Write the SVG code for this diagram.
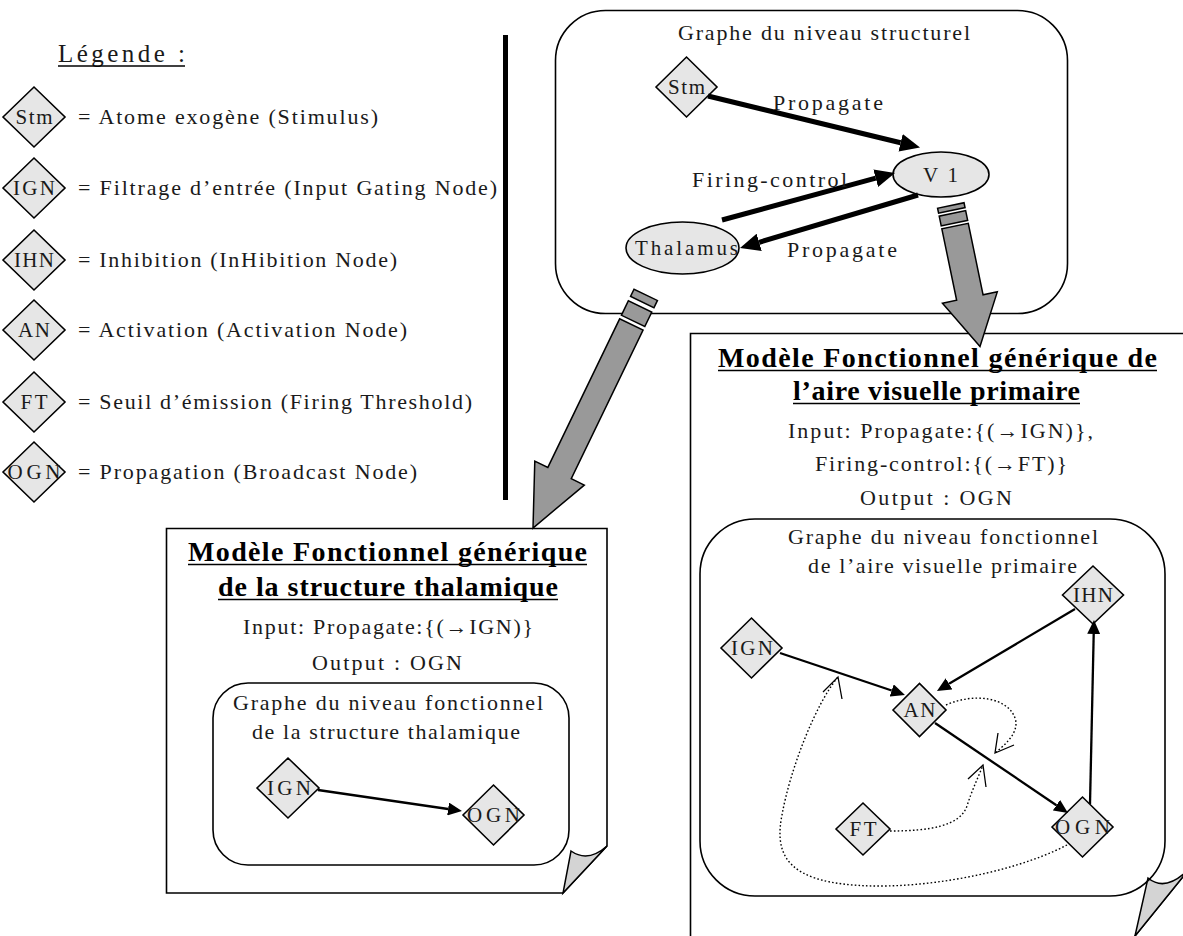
<svg xmlns="http://www.w3.org/2000/svg" width="1183" height="936" viewBox="0 0 1183 936">
<defs>
<style>
text{font-family:"Liberation Serif","Times New Roman",serif;fill:#1a1a1a}
.t{font-size:22px}
.lbl{font-size:21px;text-anchor:middle}
.ttl{font-size:28px;font-weight:bold;fill:#000}
.dia,.ell{fill:#e6e6e6;stroke:#000;stroke-width:1.6}
.frame{fill:#fff;stroke:#000;stroke-width:1.6}
.rr{fill:none;stroke:#000;stroke-width:1.6}
.thick{stroke:#000;stroke-width:5;fill:none}
.thin{stroke:#000;stroke-width:2.3;fill:none}
.dot{stroke:#000;stroke-width:1.4;fill:none;stroke-dasharray:1.6 2.2}
.vh{stroke:#000;stroke-width:1.3;fill:none}
.blk{fill:#999;stroke:#000;stroke-width:1.5}
.fold{fill:#d4d4d4;stroke:#000;stroke-width:1.5}
.ul{stroke:#000;stroke-width:1.5}
</style>
<marker id="hb" viewBox="0 -9 20 18" refX="0" refY="0" markerWidth="20" markerHeight="18" markerUnits="userSpaceOnUse" orient="auto"><path d="M0,-9 L20,0 L0,9 Z" fill="#000"/></marker>
<marker id="hs" viewBox="0 -6.5 14 13" refX="0" refY="0" markerWidth="14" markerHeight="13" markerUnits="userSpaceOnUse" orient="auto"><path d="M0,-6.5 L14,0 L0,6.5 Z" fill="#000"/></marker>
</defs>
<rect width="1183" height="936" fill="#fff"/>

<g id="legend">
<text class="t" x="58" y="62" style="font-size:25px" textLength="127" lengthAdjust="spacing">Légende :</text>
<line class="ul" x1="58" y1="66" x2="185" y2="66"/>
<g id="leg-stm"><polygon class="dia" points="3,117 34,87 65,117 34,147"/><text class="lbl" x="34" y="124" textLength="37" lengthAdjust="spacing">Stm</text><text class="t" x="78" y="124" textLength="300" lengthAdjust="spacing">= Atome exogène (Stimulus)</text></g>
<g id="leg-ign"><polygon class="dia" points="3,188 34,158 65,188 34,218"/><text class="lbl" x="34" y="195" textLength="42" lengthAdjust="spacing">IGN</text><text class="t" x="78" y="195" textLength="419" lengthAdjust="spacing">= Filtrage d’entrée (Input Gating Node)</text></g>
<g id="leg-ihn"><polygon class="dia" points="3,260 34,230 65,260 34,290"/><text class="lbl" x="34" y="267" textLength="40" lengthAdjust="spacing">IHN</text><text class="t" x="78" y="267" textLength="319" lengthAdjust="spacing">= Inhibition (InHibition Node)</text></g>
<g id="leg-an"><polygon class="dia" points="3,330 34,300 65,330 34,360"/><text class="lbl" x="34" y="337" textLength="32" lengthAdjust="spacing">AN</text><text class="t" x="78" y="337" textLength="329" lengthAdjust="spacing">= Activation (Activation Node)</text></g>
<g id="leg-ft"><polygon class="dia" points="3,402 34,372 65,402 34,432"/><text class="lbl" x="34" y="409" textLength="27" lengthAdjust="spacing">FT</text><text class="t" x="78" y="409" textLength="394" lengthAdjust="spacing">= Seuil d’émission (Firing Threshold)</text></g>
<g id="leg-ogn"><polygon class="dia" points="3,472 34,442 65,472 34,502"/><text class="lbl" x="34" y="479" textLength="53" lengthAdjust="spacing">OGN</text><text class="t" x="78" y="479" textLength="339" lengthAdjust="spacing">= Propagation (Broadcast Node)</text></g>
</g>

<rect id="separator" x="503" y="35" width="5" height="465" fill="#000"/>

<g id="structural-box">
<rect class="rr" x="555.5" y="10.5" width="512" height="303" rx="50"/>
<text class="t" x="678" y="40" textLength="292" lengthAdjust="spacing">Graphe du niveau structurel</text>
</g>
<g id="s-stm"><polygon class="dia" points="656,87 686.5,57 717,87 686.5,117"/><text class="lbl" x="686.5" y="94" textLength="37" lengthAdjust="spacing">Stm</text></g>
<g id="s-v1"><ellipse class="ell" cx="941" cy="174.5" rx="48" ry="22.5"/><text class="lbl" x="940.5" y="182" textLength="35" lengthAdjust="spacing">V1</text></g>
<g id="s-thalamus"><ellipse class="ell" cx="682.5" cy="248" rx="56.5" ry="26"/><text class="lbl" x="686.5" y="255" textLength="103" lengthAdjust="spacing">Thalamus</text></g>
<g id="s-connectors">
<path class="thick" d="M708,96 L900.6,142.8" marker-end="url(#hb)"/>
<path class="thick" d="M722,220 L875.7,178.2" marker-end="url(#hb)"/>
<path class="thick" d="M918,195 L759.2,242.3" marker-end="url(#hb)"/>
<text class="t" x="773" y="110" textLength="110" lengthAdjust="spacing">Propagate</text>
<text class="t" x="692" y="187" textLength="155" lengthAdjust="spacing">Firing-control</text>
<text class="t" x="787" y="257" textLength="110" lengthAdjust="spacing">Propagate</text>
</g>

<g id="thalamus-box">
<path class="frame" d="M166.5,528.5 H607 V846 L563,893 H166.5 Z"/>
<path class="fold" d="M571,851 Q588,863 607,846 L563,893 Z"/>
<text class="ttl" x="188" y="561" textLength="399" lengthAdjust="spacing">Modèle Fonctionnel générique</text>
<line class="ul" x1="188" y1="564.5" x2="587" y2="564.5"/>
<text class="ttl" x="218" y="596" textLength="340" lengthAdjust="spacing">de la structure thalamique</text>
<line class="ul" x1="218" y1="599.5" x2="558" y2="599.5"/>
<text class="t" x="243" y="634" textLength="290" lengthAdjust="spacing">Input: Propagate:{(→IGN)}</text>
<text class="t" x="312" y="670" textLength="150" lengthAdjust="spacing">Output : OGN</text>
<rect class="rr" x="213" y="683" width="356" height="182" rx="35"/>
<text class="t" x="233" y="710" textLength="310" lengthAdjust="spacing">Graphe du niveau fonctionnel</text>
<text class="t" x="252" y="739" textLength="268" lengthAdjust="spacing">de la structure thalamique</text>
</g>
<g id="t-ign"><polygon class="dia" points="257,788 288,758 319,788 288,818"/><text class="lbl" x="289" y="795" textLength="44" lengthAdjust="spacing">IGN</text></g>
<g id="t-ogn"><polygon class="dia" points="463,815 493.5,785 524,815 493.5,845"/><text class="lbl" x="493.5" y="822" textLength="53" lengthAdjust="spacing">OGN</text></g>
<g id="t-connectors">
<path class="thin" d="M318,790 L448.1,809" marker-end="url(#hs)"/>
</g>

<g id="v1-box">
<path class="frame" d="M690.5,333.5 H1190 V868 L1135,936 L1130,945 H690.5 Z"/>
<path class="fold" d="M1148,878 Q1166,893 1190,868 L1135,936 Z"/>
<text class="ttl" x="718" y="367" textLength="439" lengthAdjust="spacing">Modèle Fonctionnel générique de</text>
<line class="ul" x1="718" y1="370.5" x2="1157" y2="370.5"/>
<text class="ttl" x="793" y="400" textLength="287" lengthAdjust="spacing">l’aire visuelle primaire</text>
<line class="ul" x1="793" y1="403.5" x2="1080" y2="403.5"/>
<text class="t" x="788" y="438" textLength="305" lengthAdjust="spacing">Input: Propagate:{(→IGN)},</text>
<text class="t" x="815" y="471" textLength="252" lengthAdjust="spacing">Firing-control:{(→FT)}</text>
<text class="t" x="860" y="505" textLength="152" lengthAdjust="spacing">Output : OGN</text>
<rect class="rr" x="700" y="519" width="465" height="377" rx="55"/>
<text class="t" x="788" y="544" textLength="310" lengthAdjust="spacing">Graphe du niveau fonctionnel</text>
<text class="t" x="808" y="573" textLength="269" lengthAdjust="spacing">de l’aire visuelle primaire</text>
</g>
<g id="v-ihn"><polygon class="dia" points="1062.5,595 1093,566 1123.5,595 1093,624"/><text class="lbl" x="1093" y="602" textLength="40" lengthAdjust="spacing">IHN</text></g>
<g id="v-ign"><polygon class="dia" points="721,648 751.5,618 782,648 751.5,678"/><text class="lbl" x="752" y="655" textLength="42" lengthAdjust="spacing">IGN</text></g>
<g id="v-an"><polygon class="dia" points="893,710 919.5,683.5 946,710 919.5,736.5"/><text class="lbl" x="919.5" y="717" textLength="32" lengthAdjust="spacing">AN</text></g>
<g id="v-ogn"><polygon class="dia" points="1052,827 1082.5,797 1113,827 1082.5,857"/><text class="lbl" x="1082.5" y="834" textLength="55" lengthAdjust="spacing">OGN</text></g>
<g id="v-ft"><polygon class="dia" points="836,829 863,803 890,829 863,855"/><text class="lbl" x="863" y="836" textLength="27" lengthAdjust="spacing">FT</text></g>
<g id="v-connectors">
<path class="thin" d="M780,653 L891.7,690.5" marker-end="url(#hs)"/>
<path class="thin" d="M1075,609 L949,683.8" marker-end="url(#hs)"/>
<path class="thin" d="M935,723 L1056.4,805.2" marker-end="url(#hs)"/>
<path class="thin" d="M1090,804 L1093.7,634" marker-end="url(#hs)"/>
<path class="dot" d="M946,705 C975,692 1008,698 1015,718 C1020,732 1005,745 995,753"/>
<path class="vh" d="M998,733 L995,753 L1014,745"/>
<path class="dot" d="M890,831 C930,831 960,826 967,806 C972,790 978,778 983,765"/>
<path class="vh" d="M968,779 L983,765 L986,787"/>
<path class="dot" d="M1067,845 C1010,875 900,895 830,882 C785,873 775,850 782,815 C790,770 815,705 838,677"/>
<path class="vh" d="M823,692 L838,677 L842,699"/>
</g>

<g id="refinement-arrows">
<g transform="translate(533,528) rotate(25.8)">
<path class="blk" d="M0,0 L-27.5,-61 L-13,-61 L-13,-226 L13,-226 L13,-61 L27.5,-61 Z"/>
<rect class="blk" x="-13" y="-246" width="26" height="16"/>
<rect class="blk" x="-13" y="-259" width="26" height="8"/>
</g>
<g transform="translate(980,346.5) rotate(-11.7)">
<path class="blk" d="M0,0 L-28,-50 L-13.5,-50 L-13.5,-123 L13.5,-123 L13.5,-50 L28,-50 Z"/>
<rect class="blk" x="-13.5" y="-136" width="27" height="10"/>
<rect class="blk" x="-13.5" y="-144" width="27" height="5"/>
</g>
</g>
</svg>
